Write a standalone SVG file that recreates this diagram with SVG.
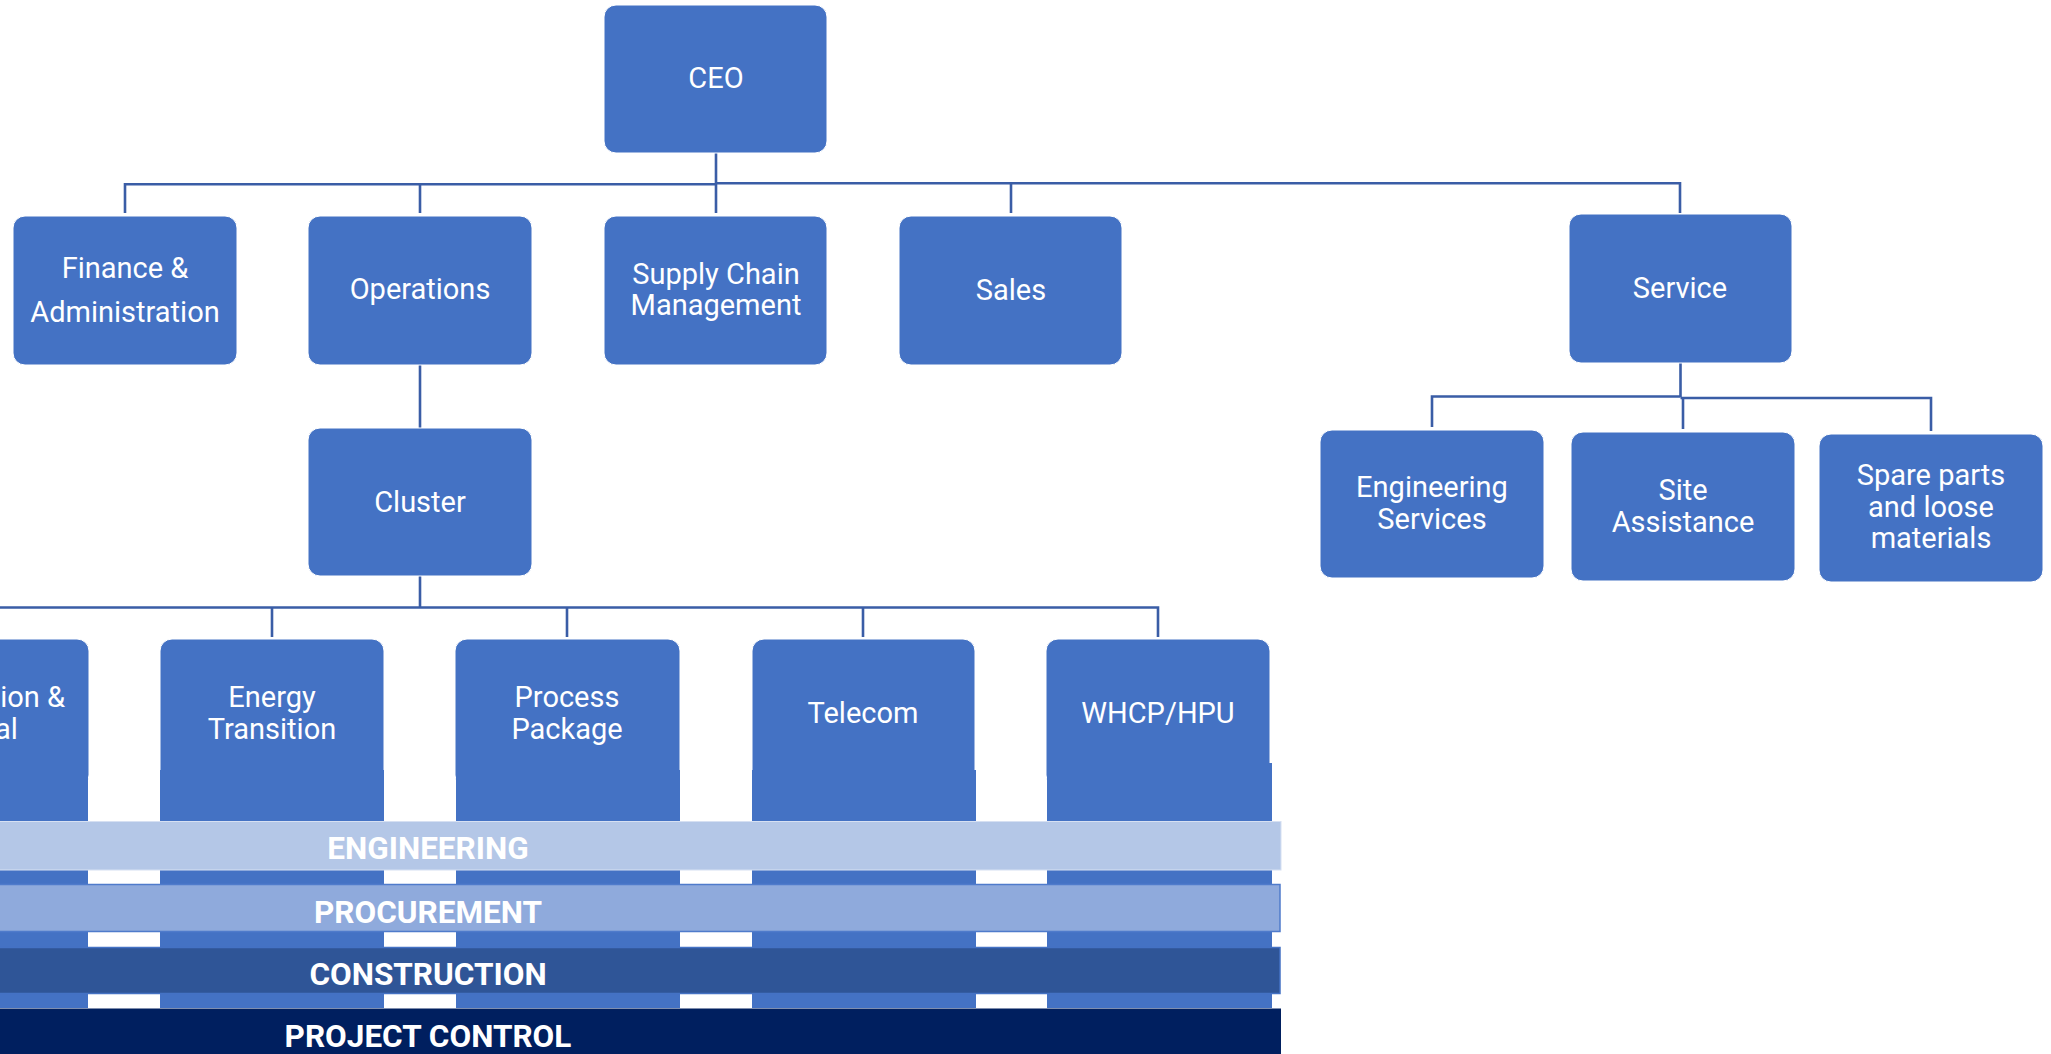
<svg xmlns="http://www.w3.org/2000/svg" width="2051" height="1054" viewBox="0 0 2051 1054">
  <style>
    .box { fill: #4472C4; stroke: #FFFFFF; stroke-width: 1; }
    .col { fill: #4472C4; }
    .lbl { font-family: Roboto, "Liberation Sans", sans-serif; font-size: 29px; fill: #FFFFFF; text-anchor: middle; }
    .conn { fill: none; stroke: #3A5DA6; stroke-width: 2.6; }
    .band-text { font-family: Roboto, "Liberation Sans", sans-serif; font-size: 31.5px; font-weight: bold; fill: #FFFFFF; text-anchor: middle; }
  </style>
  <rect x="0" y="0" width="2051" height="1054" fill="#FFFFFF"/>

  <g id="connectors">
    <!-- CEO to level 1 -->
    <line class="conn" x1="716" y1="153" x2="716" y2="184"/>
    <polyline class="conn" points="125,213 125,184.3 716,184.3"/>
    <polyline class="conn" points="716,183.3 1680,183.3 1680,213"/>
    <line class="conn" x1="420" y1="184" x2="420" y2="213"/>
    <line class="conn" x1="716" y1="184" x2="716" y2="213"/>
    <line class="conn" x1="1011" y1="184" x2="1011" y2="213"/>
    <!-- Operations to Cluster -->
    <line class="conn" x1="420" y1="365" x2="420" y2="428"/>
    <!-- Cluster to business units -->
    <line class="conn" x1="420" y1="576" x2="420" y2="607.5"/>
    <polyline class="conn" points="-23,637 -23,607.5 1158,607.5 1158,637"/>
    <line class="conn" x1="272" y1="607.5" x2="272" y2="637"/>
    <line class="conn" x1="567" y1="607.5" x2="567" y2="637"/>
    <line class="conn" x1="863" y1="607.5" x2="863" y2="637"/>
    <!-- Service to sub units -->
    <line class="conn" x1="1680.5" y1="363" x2="1680.5" y2="397"/>
    <polyline class="conn" points="1432,427 1432,396.5 1680.5,396.5"/>
    <polyline class="conn" points="1680.5,398 1931,398 1931,431"/>
    <line class="conn" x1="1683" y1="398" x2="1683" y2="429"/>
  </g>

  <g id="node-ceo">
    <rect class="box" x="604" y="5" width="223" height="148" rx="12"/>
    <text class="lbl" x="716" y="88">CEO</text>
  </g>
  <g id="node-finance">
    <rect class="box" x="13" y="216" width="224" height="149" rx="12"/>
    <text class="lbl" x="125" y="278">Finance &amp;</text>
    <text class="lbl" x="125" y="322">Administration</text>
  </g>
  <g id="node-operations">
    <rect class="box" x="308" y="216" width="224" height="149" rx="12"/>
    <text class="lbl" x="420" y="299">Operations</text>
  </g>
  <g id="node-supply-chain">
    <rect class="box" x="604" y="216" width="223" height="149" rx="12"/>
    <text class="lbl" x="716" y="284">Supply Chain</text>
    <text class="lbl" x="716" y="315">Management</text>
  </g>
  <g id="node-sales">
    <rect class="box" x="899" y="216" width="223" height="149" rx="12"/>
    <text class="lbl" x="1011" y="300">Sales</text>
  </g>
  <g id="node-service">
    <rect class="box" x="1569" y="214" width="223" height="149" rx="12"/>
    <text class="lbl" x="1680" y="298">Service</text>
  </g>
  <g id="node-cluster">
    <rect class="box" x="308" y="428" width="224" height="148" rx="12"/>
    <text class="lbl" x="420" y="512">Cluster</text>
  </g>
  <g id="node-engineering-services">
    <rect class="box" x="1320" y="430" width="224" height="148" rx="12"/>
    <text class="lbl" x="1432" y="497">Engineering</text>
    <text class="lbl" x="1432" y="529">Services</text>
  </g>
  <g id="node-site-assistance">
    <rect class="box" x="1571" y="432" width="224" height="149" rx="12"/>
    <text class="lbl" x="1683" y="500">Site</text>
    <text class="lbl" x="1683" y="531.5">Assistance</text>
  </g>
  <g id="node-spare-parts">
    <rect class="box" x="1819" y="434" width="224" height="148" rx="12"/>
    <text class="lbl" x="1931" y="485">Spare parts</text>
    <text class="lbl" x="1931" y="516.5">and loose</text>
    <text class="lbl" x="1931" y="548">materials</text>
  </g>

  <g id="node-automation-digital">
    <rect class="box" x="-135" y="639" width="224" height="148" rx="12"/>
    <rect class="col" x="-136" y="770" width="224" height="238"/>
    <text class="lbl" x="-23" y="707">Automation &amp;</text>
    <text class="lbl" x="-23" y="739">Digital</text>
  </g>
  <g id="node-energy-transition">
    <rect class="box" x="160" y="639" width="224" height="148" rx="12"/>
    <rect class="col" x="160" y="770" width="224" height="238"/>
    <text class="lbl" x="272" y="707">Energy</text>
    <text class="lbl" x="272" y="739">Transition</text>
  </g>
  <g id="node-process-package">
    <rect class="box" x="455" y="639" width="225" height="148" rx="12"/>
    <rect class="col" x="456" y="770" width="224" height="238"/>
    <text class="lbl" x="567" y="707">Process</text>
    <text class="lbl" x="567" y="739">Package</text>
  </g>
  <g id="node-telecom">
    <rect class="box" x="752" y="639" width="223" height="148" rx="12"/>
    <rect class="col" x="752" y="770" width="224" height="238"/>
    <text class="lbl" x="863" y="723">Telecom</text>
  </g>
  <g id="node-whcp-hpu">
    <rect class="box" x="1046" y="639" width="224" height="148" rx="12"/>
    <rect class="col" x="1047" y="763" width="225" height="245"/>
    <text class="lbl" x="1158" y="723">WHCP/HPU</text>
  </g>

  <g id="phases">
    <g id="band-engineering">
      <rect x="-430" y="821.5" width="1711" height="48.5" fill="#B4C7E7" stroke="#D6E0F2" stroke-width="1"/>
      <text class="band-text" x="428" y="859">ENGINEERING</text>
    </g>
    <g id="band-procurement">
      <rect x="-430" y="884.5" width="1710" height="47" fill="#8FAADC" stroke="#4F7BCB" stroke-width="1.5"/>
      <text class="band-text" x="428" y="923">PROCUREMENT</text>
    </g>
    <g id="band-construction">
      <rect x="-430" y="947.5" width="1710" height="46" fill="#2F5597" stroke="#4472C4" stroke-width="1.5"/>
      <text class="band-text" x="428" y="985">CONSTRUCTION</text>
    </g>
    <g id="band-project-control">
      <rect x="-430" y="1008.5" width="1711" height="60" fill="#001F5F"/>
      <text class="band-text" x="428" y="1047">PROJECT CONTROL</text>
    </g>
  </g>
</svg>
